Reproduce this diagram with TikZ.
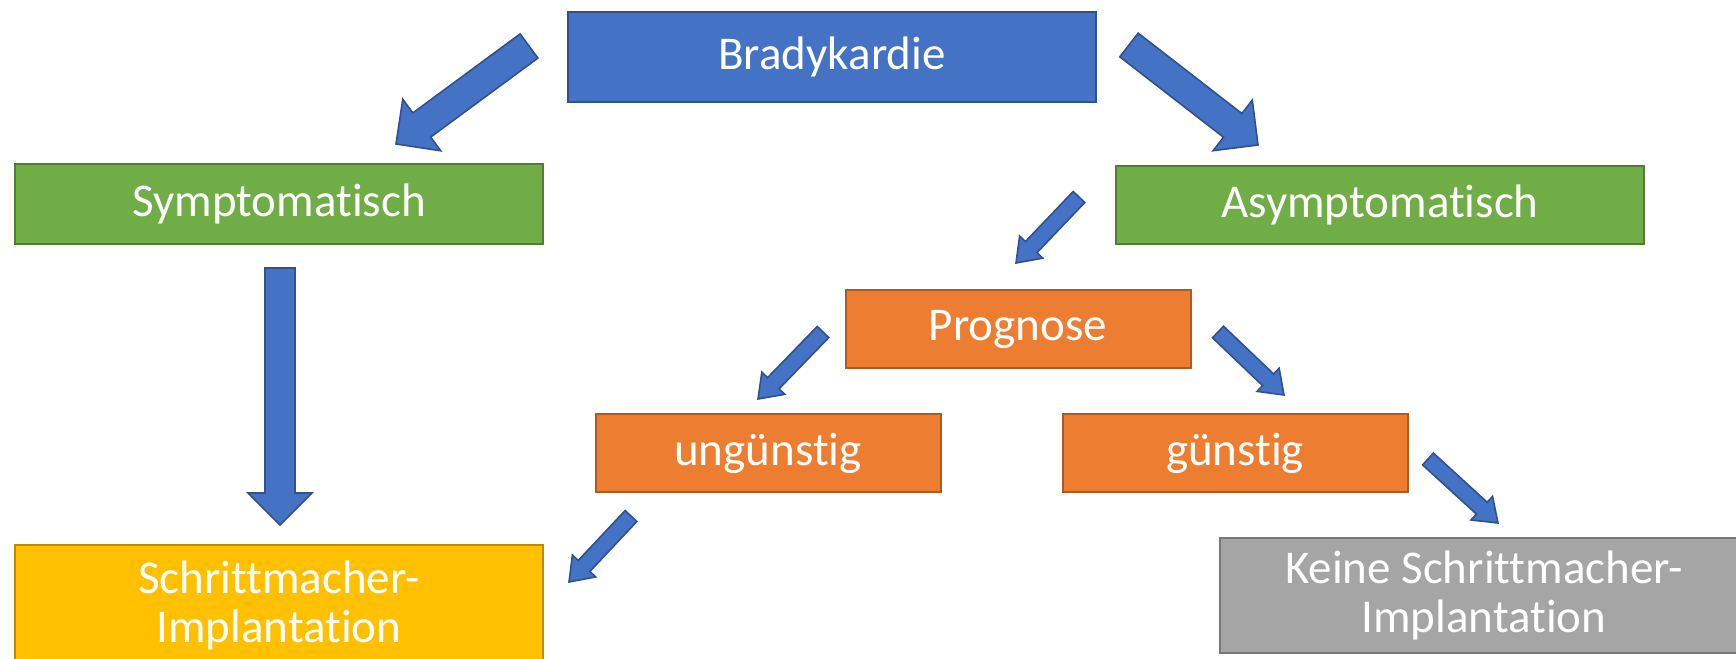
\documentclass[tikz,border=0pt]{standalone}
\usepackage{fontspec}
\setmainfont{Carlito}[Ligatures=NoCommon]
\usetikzlibrary{calc}

\definecolor{bblue}{HTML}{4472C4}
\definecolor{bblueline}{HTML}{2F528F}
\definecolor{sgreen}{HTML}{70AD47}
\definecolor{sgreenline}{HTML}{507E32}
\definecolor{porange}{HTML}{ED7D31}
\definecolor{porangeline}{HTML}{AE5A21}
\definecolor{igold}{HTML}{FFC000}
\definecolor{igoldline}{HTML}{BC8C00}
\definecolor{kgray}{HTML}{A5A5A5}
\definecolor{kgrayline}{HTML}{787878}

% block arrow: tail, tip, half shaft, half head, head length
\newcommand{\barrow}[5]{%
  \coordinate (hb) at ($(#2)!#5!(#1)$);
  \draw[blockarr] ($(#1)!#3!90:(#2)$) -- ($(hb)!#3!90:(#2)$) -- ($(hb)!#4!90:(#2)$)
    -- (#2) -- ($(hb)!#4!-90:(#2)$) -- ($(hb)!#3!-90:(#2)$) -- ($(#1)!#3!-90:(#2)$) -- cycle;}

\begin{document}
\begin{tikzpicture}[x=0.5pt, y=-0.5pt,
  box/.style={draw, line width=1pt, text=white, align=center, inner sep=0pt,
    font={\fontsize{23.5pt}{24.5pt}\selectfont}},
  wide/.style={box, minimum width=264pt},
  small/.style={box, minimum width=172.5pt, minimum height=39pt, fill=porange, draw=porangeline},
  blockarr/.style={fill=bblue, draw=bblueline, line width=0.8pt, line join=miter}]
\useasboundingbox (0,0) rectangle (1736,659);
\clip (0,0) rectangle (1736,659);

\node[wide, minimum height=45pt, fill=bblue, draw=bblueline] (b1) at (832,57) {Bradykardie};
\node[wide, minimum height=40pt, fill=sgreen, draw=sgreenline] (s1) at (279,204) {Symptomatisch};
\node[wide, minimum height=39pt, fill=sgreen, draw=sgreenline] (s2) at (1380,205) {Asymptomatisch};
\node[small] (p1) at (1018,329) {Prognose};
\node[small] (u1) at (768,453) {ungünstig};
\node[small] (g1) at (1235,453) {günstig};
\node[wide, minimum height=60pt, fill=igold, draw=igoldline] (i1) at (279,605) {Schrittmacher-\\Implantation};
\node[wide, minimum height=57.5pt, fill=kgray, draw=kgrayline] (i2) at (1484,595) {Keine Schrittmacher-\\Implantation};

% arrow ends
\coordinate (a1) at (529,46);   \coordinate (a2) at (396,144);
\coordinate (c1) at (1129,45);  \coordinate (c2) at (1258,145);
\coordinate (d1) at (280,268);  \coordinate (d2) at (280,525);
\coordinate (e1) at (1079,197); \coordinate (e2) at (1016,263);
\coordinate (f1) at (823,332);  \coordinate (f2) at (758,399);
\coordinate (h1) at (1218,332); \coordinate (h2) at (1284,395);
\coordinate (k1) at (631,516);  \coordinate (k2) at (569,582);
\coordinate (m1) at (1428,459); \coordinate (m2) at (1498,523);

\barrow{a1}{a2}{7.5pt}{16pt}{16pt}
\barrow{c1}{c2}{7.5pt}{16pt}{16pt}
\barrow{d1}{d2}{7.5pt}{16pt}{16pt}
\barrow{e1}{e2}{4pt}{8pt}{11pt}
\barrow{f1}{f2}{4pt}{8pt}{11pt}
\barrow{h1}{h2}{4pt}{8pt}{11pt}
\barrow{k1}{k2}{4pt}{8pt}{11pt}
\barrow{m1}{m2}{4pt}{8pt}{11pt}
\end{tikzpicture}
\end{document}
